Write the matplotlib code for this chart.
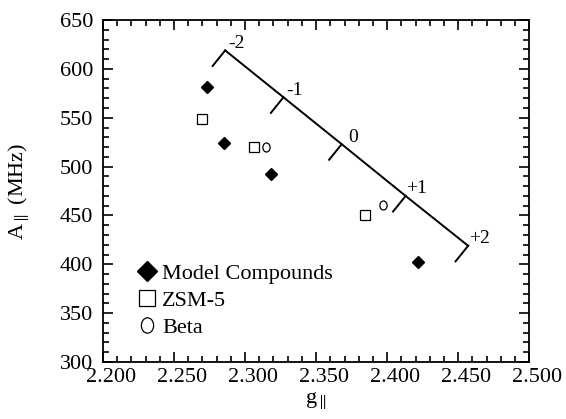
"""A-parallel vs g-parallel scatter with a -2..+2 reference scale line."""

import matplotlib
matplotlib.use("Agg")
import matplotlib.pyplot as plt  # noqa: E402
import numpy as np  # noqa: E402
from matplotlib.path import Path  # noqa: E402
from matplotlib.ticker import MultipleLocator  # noqa: E402
from matplotlib.transforms import ScaledTranslation  # noqa: E402

plt.rcParams["font.family"] = ["Liberation Serif", "DejaVu Serif"]
plt.rcParams["mathtext.fontset"] = "stix"

# --- data ---
model_g = [2.273, 2.285, 2.318, 2.422]
model_A = [582, 524, 492, 402]
zsm_g = [2.2695, 2.306, 2.3845]
zsm_A = [549, 520, 450]
beta_g = [2.3146, 2.397]
beta_A = [520, 461]

# reference scale: positions of the labelled marks along the line
scale_g = [2.286, 2.327, 2.368, 2.413, 2.457]
scale_A = [619, 571, 523, 470, 419]
scale_labels = ["-2", "-1", "0", "+1", "+2"]

fig = plt.figure(figsize=(5.66, 4.19), dpi=100)
ax = fig.add_axes([0.182, 0.136, 0.753, 0.816])
ax.set_xlim(2.2, 2.5)
ax.set_ylim(300, 650)

# open ellipse marker for Beta (taller than wide)
circ = Path.unit_circle()
ellipse = Path(circ.vertices * np.array([0.8, 1.0]), circ.codes)

ax.plot(model_g, model_A, ls="none", marker="D", ms=6, mfc="black",
        mec="black", label="Model Compounds")
ax.plot(zsm_g, zsm_A, ls="none", marker="s", ms=6.5, mfc="white",
        mec="black", mew=0.9, label="ZSM-5")
ax.plot(beta_g, beta_A, ls="none", marker=ellipse, ms=6.5, mfc="white",
        mec="black", mew=0.9, label="Beta")

# scale line with small perpendicular ticks toward lower-left
ax.plot(scale_g, scale_A, c="black", lw=1.4)
to_px = ax.transData
p0 = to_px.transform((scale_g[0], scale_A[0]))
p1 = to_px.transform((scale_g[-1], scale_A[-1]))
d = (p1 - p0) / np.hypot(*(p1 - p0))
perp = np.array([-d[1], d[0]])
if perp[0] > 0:
    perp = -perp
for g, a, lab in zip(scale_g, scale_A, scale_labels):
    p = to_px.transform((g, a))
    q = to_px.inverted().transform(p + perp * 20)
    ax.plot([g, q[0]], [a, q[1]], c="black", lw=1.4)
    ax.annotate(lab, (g, a), xytext=(11, 7), textcoords="offset pixels",
                ha="center", va="center", fontsize=14)

ax.xaxis.set_major_locator(MultipleLocator(0.05))
ax.xaxis.set_minor_locator(MultipleLocator(0.01))
ax.yaxis.set_major_locator(MultipleLocator(50))
ax.yaxis.set_minor_locator(MultipleLocator(10))
ax.xaxis.set_major_formatter(lambda v, _: f"{v:.3f}")
ax.tick_params(which="both", direction="in", top=True, right=True,
               labelsize=16, width=1.2)
ax.tick_params(which="major", length=7)
ax.tick_params(which="minor", length=4)
ax.tick_params(axis="y", pad=7)
ax.tick_params(axis="x", pad=4)
shift = ScaledTranslation(8 / 100, 0, fig.dpi_scale_trans)
for t in ax.get_xticklabels():
    t.set_transform(t.get_transform() + shift)
for s in ax.spines.values():
    s.set_linewidth(1.3)

ax.set_xlabel(r"g$_{\parallel}$", fontsize=16)
ax.set_ylabel(r"A$_{\parallel}$ (MHz)", fontsize=16)
ax.xaxis.set_label_coords(0.5, -0.082)
ax.yaxis.set_label_coords(-0.168, 0.5)

ax.legend(loc="lower left", bbox_to_anchor=(0.082, 0.07), frameon=False,
          fontsize=16, markerscale=1.7, handlelength=0.8, handletextpad=0.3,
          labelspacing=0.3, borderaxespad=0, borderpad=0)

fig.savefig("out.png", dpi=100)
